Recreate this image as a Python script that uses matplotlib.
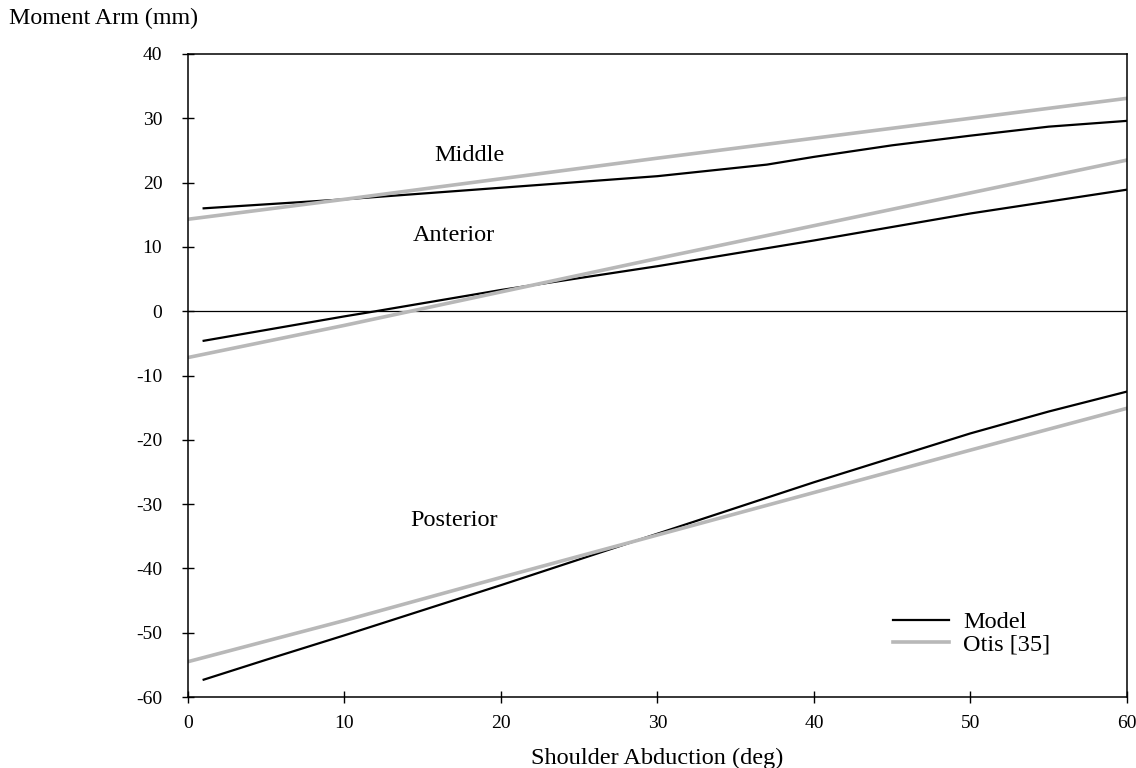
import matplotlib.pyplot as plt

# Data (shoulder abduction in deg, moment arm in mm)
mid_model_x = [1, 10, 20, 30, 37, 40, 45, 50, 55, 60]
mid_model_y = [16.0, 17.4, 19.2, 21.0, 22.8, 24.0, 25.8, 27.3, 28.7, 29.6]
mid_otis_x = [0, 10, 20, 30, 40, 50, 60]
mid_otis_y = [14.3, 17.4, 20.6, 23.8, 26.9, 30.0, 33.1]

ant_model_x = [1, 10, 12, 20, 30, 40, 50, 60]
ant_model_y = [-4.6, -0.8, 0.0, 3.3, 7.0, 11.0, 15.2, 18.9]
ant_otis_x = [0, 10, 20, 30, 40, 50, 60]
ant_otis_y = [-7.2, -2.2, 3.0, 8.2, 13.3, 18.4, 23.5]

post_model_x = [1, 5, 10, 20, 30, 40, 50, 55, 60]
post_model_y = [-57.3, -54.2, -50.4, -42.6, -34.6, -26.6, -19.0, -15.6, -12.5]
post_otis_x = [0, 10, 20, 30, 40, 50, 60]
post_otis_y = [-54.5, -48.1, -41.4, -34.8, -28.2, -21.6, -15.1]

labels = ['Middle', 'Anterior', 'Posterior']
label_pos = [(18.0, 24.2), (17.0, 11.8), (17.0, -32.5)]

plt.rcParams['font.family'] = ['Liberation Serif', 'DejaVu Serif']
plt.rcParams['axes.unicode_minus'] = False

fig = plt.figure(figsize=(11.36, 7.68), dpi=100)
ax = fig.add_axes([0.1655, 0.0924, 0.8265, 0.8373])

gray = '#b8b8b8'
ax.axhline(0, color='black', lw=0.9)

ax.plot(mid_model_x, mid_model_y, color='black', lw=1.6, label='Model')
ax.plot(mid_otis_x, mid_otis_y, color=gray, lw=2.6, label='Otis [35]')
ax.plot(ant_model_x, ant_model_y, color='black', lw=1.6)
ax.plot(ant_otis_x, ant_otis_y, color=gray, lw=2.6)
ax.plot(post_model_x, post_model_y, color='black', lw=1.6)
ax.plot(post_otis_x, post_otis_y, color=gray, lw=2.6)

for txt, (lx, ly) in zip(labels, label_pos):
    ax.text(lx, ly, txt, fontsize=17.5, ha='center', va='center')

ax.set_xlim(0, 60)
ax.set_ylim(-60, 40)
ax.set_xticks(range(0, 61, 10))
ax.set_yticks(range(-60, 41, 10))
ax.tick_params(direction='inout', length=9, width=1, labelsize=14)
ax.tick_params(axis='x', pad=8.5)
ax.tick_params(axis='y', pad=14)
for s in ax.spines.values():
    s.set_linewidth(1.1)

ax.set_xlabel('Shoulder Abduction (deg)', fontsize=17.5, labelpad=11)
fig.text(0.008, 0.976, 'Moment Arm (mm)', fontsize=17.3, ha='left', va='center')

ax.legend(loc='upper left', bbox_to_anchor=(0.738, 0.152), frameon=False,
          borderpad=0, fontsize=17.5, handlelength=2.3, labelspacing=0.0,
          handletextpad=0.58)

fig.savefig('out.png', dpi=100)
